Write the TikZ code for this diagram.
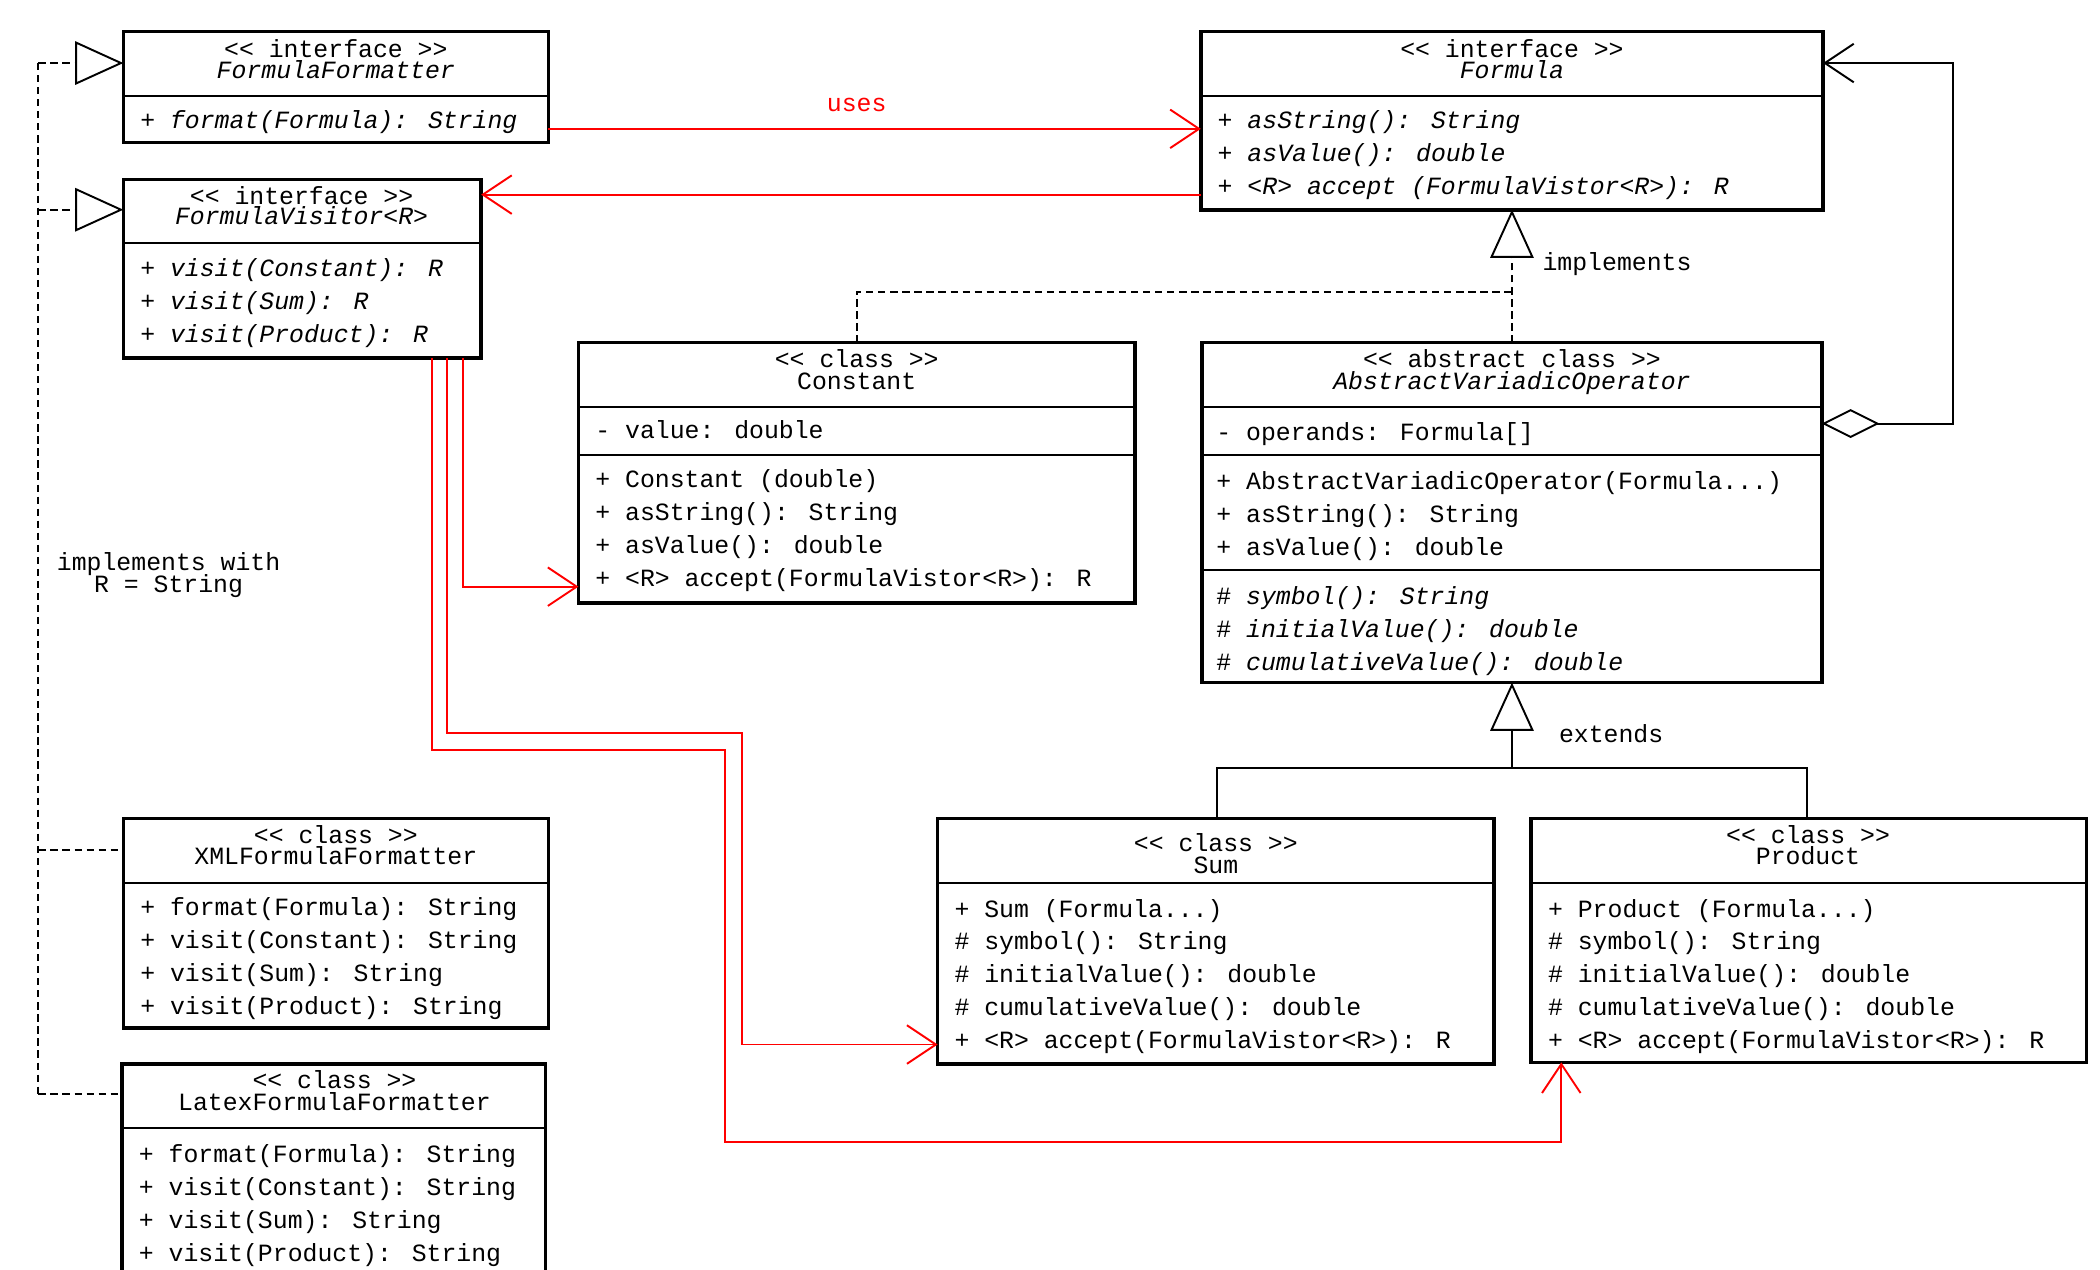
\documentclass[tikz,border=0pt]{standalone}
\usepackage{fontspec}
\setmainfont{Liberation Mono}
\usetikzlibrary{arrows.meta}
\begin{document}
\begin{tikzpicture}[x=0.02cm,y=-0.02cm,
  box/.style={draw,line width=1.5pt,anchor=north west,inner sep=0,outer sep=0},
  t/.style={anchor=base west,inner sep=0,font=\fontsize{10.3}{12}\selectfont},
  c/.style={anchor=base,inner sep=0,font=\fontsize{10.3}{12}\selectfont},
  sep/.style={line width=0.8pt},
  red/.style={draw=red,line width=0.8pt},
  barb/.style={-{Straight Barb[length=12pt,width=16pt,line width=0.8pt]}},
  tri/.style={-{Triangle[open,length=20pt,width=18pt,line width=0.8pt]}},
  dsh/.style={densely dashed,line width=0.8pt}]
\useasboundingbox (0,0) rectangle (1532,926.5);
\newcommand\bx[5]{\node[box,minimum width={(#4-#2)*0.02cm},minimum height={(#5-#3)*0.02cm}] (#1) at (#2,#3) {};}
% FormulaFormatter
\bx{ff}{90}{23}{400}{104}
\draw[sep] (90,70)--(400,70);
\node[c] at (245,42) {<{}< interface >{}>};
\node[c] at (245,57) {\itshape FormulaFormatter};
\node[t] at (102,94) {+ \itshape format(Formula): String};
% FormulaVisitor
\bx{fv}{90}{131}{351}{261}
\draw[sep] (90,177)--(351,177);
\node[c] at (220,149) {<{}< interface >{}>};
\node[c] at (220,164) {\itshape FormulaVisitor<R>};
\node[t] at (102,202) {+ \itshape visit(Constant): R};
\node[t] at (102,226) {+ \itshape visit(Sum): R};
\node[t] at (102,250) {+ \itshape visit(Product): R};
% Formula
\bx{fo}{876}{23}{1330}{153}
\draw[sep] (876,70)--(1330,70);
\node[c] at (1103,42) {<{}< interface >{}>};
\node[c] at (1103,57) {\itshape Formula};
\node[t] at (888,94) {+ \itshape asString(): String};
\node[t] at (888,118) {+ \itshape asValue(): double};
\node[t] at (888,142) {+ \itshape <R> accept (FormulaVistor<R>): R};
% Constant
\bx{co}{422}{250}{828}{440}
\draw[sep] (422,297)--(828,297);
\draw[sep] (422,332)--(828,332);
\node[c] at (625,268) {<{}< class >{}>};
\node[c] at (625,284) {Constant};
\node[t] at (434,320) {- value: double};
\node[t] at (434,356) {+ Constant (double)};
\node[t] at (434,380) {+ asString(): String};
\node[t] at (434,404) {+ asValue(): double};
\node[t] at (434,428) {+ <R> accept(FormulaVistor<R>): R};
% AVO
\bx{av}{877}{250}{1329}{498}
\draw[sep] (877,297)--(1329,297);
\draw[sep] (877,332)--(1329,332);
\draw[sep] (877,416)--(1329,416);
\node[c] at (1103,268) {<{}< abstract class >{}>};
\node[c] at (1103,284) {\itshape AbstractVariadicOperator};
\node[t] at (887,321) {- operands: Formula[]};
\node[t] at (887,357) {+ AbstractVariadicOperator(Formula...)};
\node[t] at (887,381) {+ asString(): String};
\node[t] at (887,405) {+ asValue(): double};
\node[t] at (887,441) {\# \itshape symbol(): String};
\node[t] at (887,465) {\# \itshape initialValue(): double};
\node[t] at (887,489) {\# \itshape cumulativeValue(): double};
% XML
\bx{xml}{90}{597}{400}{750}
\draw[sep] (90,644)--(400,644);
\node[c] at (245,615) {<{}< class >{}>};
\node[c] at (245,631) {XMLFormulaFormatter};
\node[t] at (102,668) {+ format(Formula): String};
\node[t] at (102,692) {+ visit(Constant): String};
\node[t] at (102,716) {+ visit(Sum): String};
\node[t] at (102,740) {+ visit(Product): String};
% Latex
\bx{lx}{89}{776}{398}{930}
\draw[sep] (89,823)--(398,823);
\node[c] at (244,794) {<{}< class >{}>};
\node[c] at (244,810) {LatexFormulaFormatter};
\node[t] at (101,848) {+ format(Formula): String};
\node[t] at (101,872) {+ visit(Constant): String};
\node[t] at (101,896) {+ visit(Sum): String};
\node[t] at (101,920) {+ visit(Product): String};
% Sum
\bx{su}{684}{597}{1090}{776}
\draw[sep] (684,644)--(1090,644);
\node[c] at (887,621) {<{}< class >{}>};
\node[c] at (887,637) {Sum};
\node[t] at (696,669) {+ Sum (Formula...)};
\node[t] at (696,693) {\# symbol(): String};
\node[t] at (696,717) {\# initialValue(): double};
\node[t] at (696,741) {\# cumulativeValue(): double};
\node[t] at (696,765) {+ <R> accept(FormulaVistor<R>): R};
% Product
\bx{pr}{1117}{597}{1522}{775}
\draw[sep] (1117,644)--(1522,644);
\node[c] at (1319,615) {<{}< class >{}>};
\node[c] at (1319,631) {Product};
\node[t] at (1129,669) {+ Product (Formula...)};
\node[t] at (1129,693) {\# symbol(): String};
\node[t] at (1129,717) {\# initialValue(): double};
\node[t] at (1129,741) {\# cumulativeValue(): double};
\node[t] at (1129,765) {+ <R> accept(FormulaVistor<R>): R};
% uses
\draw[red,barb] (ff.east |- 0,94) -- (fo.west |- 0,94);
\node[c,text=red] at (625,81) {uses};
\draw[red,barb] (fo.west |- 0,142) -- (fv.east |- 0,142);
% aggregation
\coordinate (ag1) at (1425,309);
\coordinate (ag2) at (1425,46);
\draw[line width=0.8pt,{Diamond[open,length=24pt,width=12pt,line width=0.8pt]}-{Straight Barb[length=12pt,width=16pt,line width=0.8pt]}]
  (av.east |- 0,309) -- (ag1) -- (ag2) -- (fo.east |- 0,46);
% implements
\coordinate (im) at (1103,213);
\draw[dsh] (co.north) -- (625,213) -- (im);
\draw[dsh,tri] (av.north) -- (fo.south);
\node[t] at (1125,197) {implements};
% extends
\coordinate (ex) at (1103,560);
\draw[line width=0.8pt] (su.north -| 888,0) -- (888,560) -- (1318,560) -- (pr.north -| 1318,0);
\draw[line width=0.8pt,tri] (ex) -- (av.south);
\node[t] at (1137,542) {extends};
% left dashed
\coordinate (l1) at (28,46);
\coordinate (l2) at (28,798);
\draw[dsh] (l1) -- (l2);
\draw[dsh,tri] (l1) -- (ff.west |- 0,46);
\draw[dsh,tri] (28,153) -- (fv.west |- 0,153);
\draw[dsh] (28,620) -- (xml.west |- 0,620);
\draw[dsh] (l2) -- (lx.west |- 0,798);
\node[c] at (123,416) {implements with};
\node[c] at (123,432) {R = String};
% red visitor lines
\draw[red,barb] (fv.south -| 338,0) -- (338,428) -- (co.west |- 0,428);
\draw[red,barb] (fv.south -| 326,0) -- (326,535) -- (541,535) -- (541,762) -- (su.west |- 0,762);
\draw[red,barb] (fv.south -| 315,0) -- (315,547) -- (529,547) -- (529,833) -- (1139,833) -- (pr.south -| 1139,0);
\end{tikzpicture}
\end{document}
